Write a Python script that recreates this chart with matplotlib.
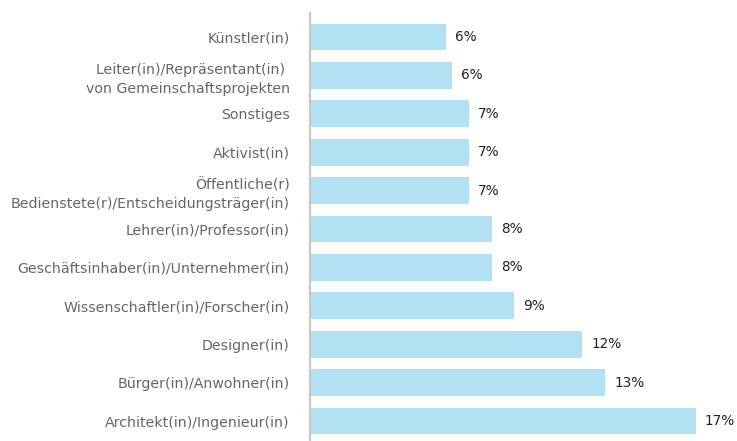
import matplotlib
matplotlib.use("Agg")
import matplotlib.pyplot as plt

categories = [
    "Künstler(in)",
    "Leiter(in)/Repräsentant(in) \nvon Gemeinschaftsprojekten",
    "Sonstiges",
    "Aktivist(in)",
    "Öffentliche(r)\nBedienstete(r)/Entscheidungsträger(in)",
    "Lehrer(in)/Professor(in)",
    "Geschäftsinhaber(in)/Unternehmer(in)",
    "Wissenschaftler(in)/Forscher(in)",
    "Designer(in)",
    "Bürger(in)/Anwohner(in)",
    "Architekt(in)/Ingenieur(in)",
]
values = [6.0, 6.25, 7.0, 7.0, 7.0, 8.0, 8.0, 9.0, 12.0, 13.0, 17.0]
value_labels = ["6%", "6%", "7%", "7%", "7%", "8%", "8%", "9%", "12%", "13%", "17%"]

plt.rcParams['font.family'] = ['DejaVu Sans']

fig = plt.figure(figsize=(7.37, 4.41), dpi=100)
ax = fig.add_axes([310/737, 0, 427/737, 428/441])

y = list(range(len(categories)))
ax.barh(y, values, height=0.70, color="#b3e1f4", zorder=2)
ax.set_xlim(0, 427/22.7)
ax.set_ylim(10.52, -0.625)

ax.set_yticks(y)
ax.set_yticklabels(categories, fontsize=10.2, color="#666666", multialignment="right",
                   linespacing=1.45)
ax.tick_params(axis="y", length=0, pad=14.5)
ax.set_xticks([])

for s in ["top", "right", "bottom"]:
    ax.spines[s].set_visible(False)
ax.spines["left"].set_color("#c8c8c8")
ax.spines["left"].set_linewidth(1.6)

for yi, v, lab in zip(y, values, value_labels):
    ax.annotate(lab, (v, yi), xytext=(6.5, 0), textcoords="offset points",
                va="center", ha="left", fontsize=9.8, color="#222222")

fig.savefig("out.png", dpi=100)
